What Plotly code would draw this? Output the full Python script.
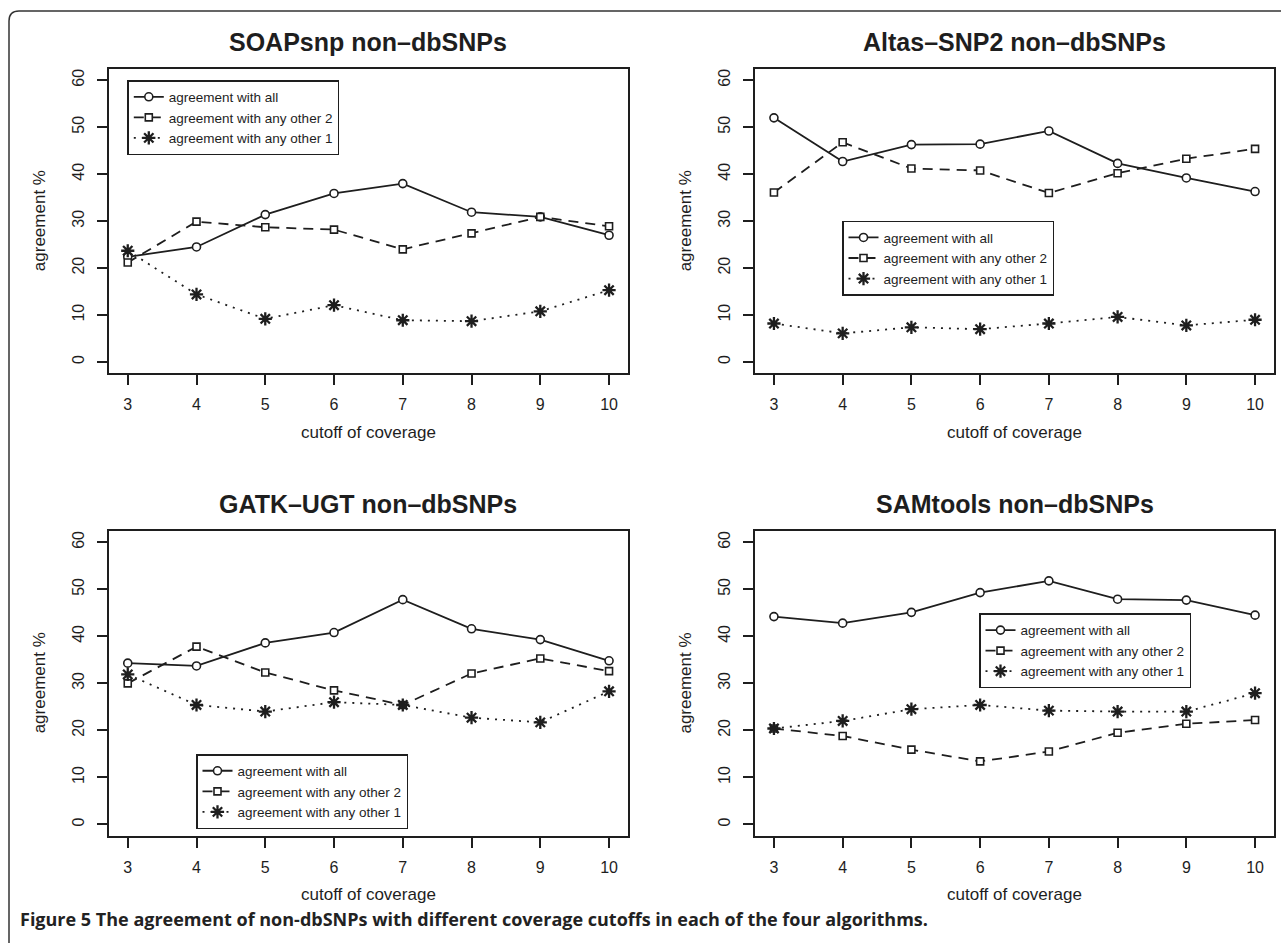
import plotly.graph_objects as go

W, H = 1281, 943

cutoffs = [3, 4, 5, 6, 7, 8, 9, 10]
x_ticks = [3, 4, 5, 6, 7, 8, 9, 10]
y_ticks = [0, 10, 20, 30, 40, 50, 60]

series_names = ["agreement with all", "agreement with any other 2", "agreement with any other 1"]

panel_titles = ["SOAPsnp non\u2013dbSNPs", "Altas\u2013SNP2 non\u2013dbSNPs",
                "GATK\u2013UGT non\u2013dbSNPs", "SAMtools non\u2013dbSNPs"]

soap_all = [22.4, 24.5, 31.4, 35.9, 38.0, 31.9, 30.9, 27.0]
soap_two = [21.2, 29.9, 28.7, 28.2, 24.0, 27.4, 30.9, 28.9]
soap_one = [23.7, 14.4, 9.2, 12.1, 8.9, 8.7, 10.8, 15.3]

atlas_all = [52.0, 42.7, 46.3, 46.4, 49.2, 42.3, 39.2, 36.3]
atlas_two = [36.1, 46.8, 41.2, 40.8, 36.0, 40.2, 43.3, 45.4]
atlas_one = [8.2, 6.1, 7.4, 7.0, 8.2, 9.6, 7.8, 9.0]

gatk_all = [34.3, 33.7, 38.6, 40.8, 47.8, 41.6, 39.3, 34.8]
gatk_two = [30.0, 37.8, 32.3, 28.5, 25.4, 32.1, 35.3, 32.6]
gatk_one = [31.9, 25.4, 24.0, 26.0, 25.4, 22.7, 21.7, 28.3]

sam_all = [44.2, 42.8, 45.1, 49.3, 51.8, 47.9, 47.7, 44.5]
sam_two = [20.4, 18.8, 15.9, 13.4, 15.5, 19.5, 21.4, 22.2]
sam_one = [20.4, 22.0, 24.5, 25.4, 24.2, 24.0, 24.0, 27.9]

panels_data = [
    [soap_all, soap_two, soap_one],
    [atlas_all, atlas_two, atlas_one],
    [gatk_all, gatk_two, gatk_one],
    [sam_all, sam_two, sam_one],
]

caption_bold = "Figure 5"
caption_text = "The agreement of non-dbSNPs with different coverage cutoffs in each of the four algorithms."

# ---- layout geometry (pixels) ----
INK = "#1e1e1e"
FONT = "Liberation Sans, Arial, Helvetica, sans-serif"

boxes = [  # left, right, top, bottom
    (108.5, 628.3, 69.0, 373.3),
    (754.7, 1274.3, 69.0, 373.3),
    (108.5, 628.3, 531.0, 835.7),
    (754.7, 1274.3, 531.0, 835.7),
]
legend_pos = [(127.3, 80.0), (842.0, 220.7), (196.0, 754.0), (979.0, 613.3)]

styles = [
    dict(dash="solid", symbol="circle", size=8),
    dict(dash="10px,7px", symbol="square", size=7),
    dict(dash="2px,6px", symbol="asterisk-open", size=11),
]


def px(x):
    return x / W


def py(y):
    return 1 - y / H


fig = go.Figure()

for i, data in enumerate(panels_data):
    n = i + 1
    xa = "x" if n == 1 else f"x{n}"
    ya = "y" if n == 1 else f"y{n}"
    leg = "legend" if n == 1 else f"legend{n}"
    for j, vals in enumerate(data):
        st = styles[j]
        if st["symbol"] == "asterisk-open":
            marker = dict(symbol=st["symbol"], size=st["size"], color=INK,
                          line=dict(color=INK, width=2.3))
        else:
            marker = dict(symbol=st["symbol"], size=st["size"], color="white",
                          line=dict(color=INK, width=1.6))
        fig.add_trace(go.Scatter(
            x=cutoffs, y=vals, mode="lines+markers", name=series_names[j],
            line=dict(color=INK, width=1.8, dash=st["dash"]),
            marker=marker, xaxis=xa, yaxis=ya, legend=leg, showlegend=True,
        ))

    l, r, t, b = boxes[i]
    axis_common = dict(showline=True, mirror=True, linecolor=INK, linewidth=1.8,
                       ticks="outside", ticklen=10, tickwidth=1.6, tickcolor=INK,
                       showgrid=False, zeroline=False,
                       tickfont=dict(family=FONT, size=16, color=INK))
    fig.layout[f"xaxis{'' if n == 1 else n}"] = dict(
        domain=[px(l), px(r)], range=[2.72, 10.28], tickmode="array",
        tickvals=x_ticks, ticktext=[str(v) for v in x_ticks], anchor=ya,
        ticklabelstandoff=6, **axis_common)
    fig.layout[f"yaxis{'' if n == 1 else n}"] = dict(
        domain=[py(b), py(t)], range=[-2.4, 62.4], tickmode="array",
        tickvals=y_ticks, ticktext=[str(v) for v in y_ticks], anchor=xa,
        tickangle=-90, ticklabelstandoff=6, **axis_common)

    lx, ly = legend_pos[i]
    fig.layout[leg] = dict(x=px(lx), y=py(ly), xanchor="left", yanchor="top",
                           bgcolor="white", bordercolor=INK, borderwidth=1.5,
                           font=dict(family=FONT, size=13.5, color=INK),
                           itemwidth=30, tracegroupgap=0)

    cx = (l + r) / 2
    fig.add_annotation(text=f"<b>{panel_titles[i]}</b>", x=px(cx), y=py(t - 27.5),
                       xref="paper", yref="paper", showarrow=False,
                       xanchor="center", yanchor="middle",
                       font=dict(family=FONT, size=25, color=INK))
    fig.add_annotation(text="cutoff of coverage", x=px(cx), y=py(b + 58.7),
                       xref="paper", yref="paper", showarrow=False,
                       xanchor="center", yanchor="middle",
                       font=dict(family=FONT, size=17, color=INK))
    fig.add_annotation(text="agreement %", x=px(l - 69.5), y=py((t + b) / 2),
                       xref="paper", yref="paper", showarrow=False, textangle=-90,
                       xanchor="center", yanchor="middle",
                       font=dict(family=FONT, size=17, color=INK))

# caption
fig.add_annotation(text=f"<b>{caption_bold} {caption_text}</b>", x=px(18), y=py(919),
                   xref="paper", yref="paper", showarrow=False,
                   xanchor="left", yanchor="middle",
                   font=dict(family="Open Sans, Noto Sans, Liberation Sans, sans-serif",
                             size=18, color="#222222"))

# outer rounded frame
rad = 10
frame_path = (f"M {px(9)},{py(H + 5)} L {px(9)},{py(11 + rad)} "
              f"Q {px(9)},{py(11)} {px(9 + rad)},{py(11)} L {px(W + 5)},{py(11)}")
fig.add_shape(type="path", path=frame_path, xref="paper", yref="paper",
              line=dict(color="#333333", width=1.5))

fig.update_layout(width=W, height=H, margin=dict(l=0, r=0, t=0, b=0),
                  paper_bgcolor="white", plot_bgcolor="white", showlegend=True,
                  font=dict(family=FONT, color=INK))

fig.write_html("out.html", config={"displayModeBar": False},
               post_script="document.body.style.margin='0';document.body.style.overflow='hidden';")
